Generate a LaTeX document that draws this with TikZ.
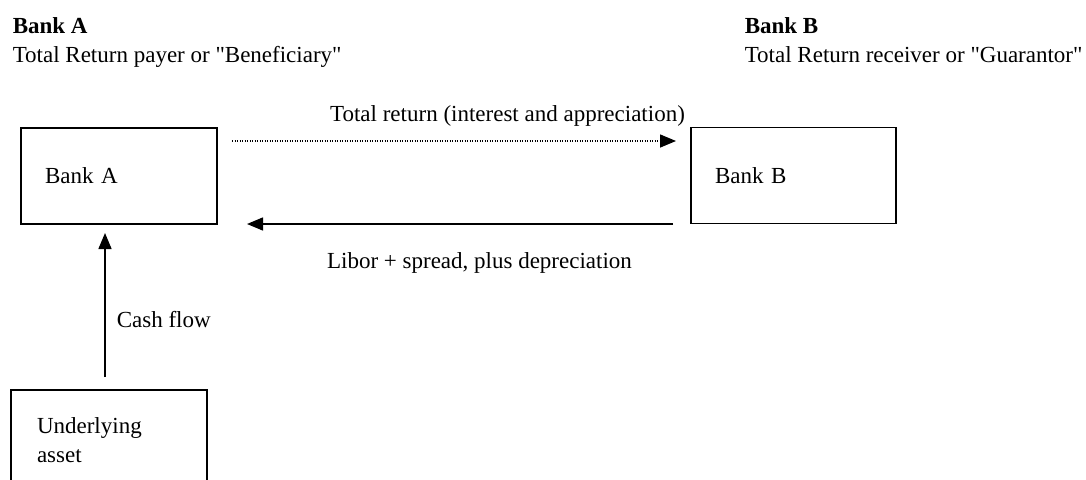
\documentclass[tikz,border=0pt]{standalone}
\usepackage{fontspec}
\setmainfont{Liberation Serif}[Ligatures=TeXOff]
\usetikzlibrary{arrows.meta}

\begin{document}
\begin{tikzpicture}[x=1pt, y=-1pt, line width=1.5pt,
    every node/.style={font=\fontsize{23}{29}\selectfont, inner sep=0pt},
    bank/.style={draw, align=left, inner xsep=24pt, minimum height=96pt},
    flow/.style={-{Triangle[length=16pt,width=13pt]}}]

    \useasboundingbox (0,0) rectangle (1086,479);
    \clip (0,0) rectangle (1086,479);

    \node[anchor=base west] (headA) at (12,33) {\textbf{Bank A}};
    \node[anchor=base west] (subA) at (12,62) {Total Return payer or "Beneficiary"};
    \node[anchor=base west] (headB) at (744,33) {\textbf{Bank B}};
    \node[anchor=base west] (subB) at (744,62) {Total Return receiver or "Guarantor"};

    \node[bank, text width=148pt] (bankA) at (119,176) {Bank A};
    \node[bank, text width=157pt] (bankB) at (793.5,175.5) {Bank B};
    \node[draw, anchor=north, align=left, text width=144pt, inner xsep=26pt, inner ysep=28pt] (asset) at (109,389) {Underlying\\asset};

    \coordinate (trStart) at (232,141);
    \coordinate (trEnd) at (676,141);
    \coordinate (lbStart) at (673,224);
    \coordinate (lbEnd) at (247,224);
    \coordinate (cfStart) at (105,377);
    \coordinate (cfEnd) at (105,233);

    \draw[flow, dash pattern=on 1pt off 1.5pt] (trStart) -- (trEnd);
    \draw[flow] (lbStart) -- (lbEnd);
    \draw[flow] (cfStart) -- (cfEnd);

    \node[anchor=base] (trLabel) at (507.5,121) {Total return (interest and appreciation)};
    \node[anchor=base] (lbLabel) at (479.5,268) {Libor + spread, plus depreciation};
    \node[anchor=base west] (cfLabel) at (116,327) {Cash flow};

\end{tikzpicture}
\end{document}
